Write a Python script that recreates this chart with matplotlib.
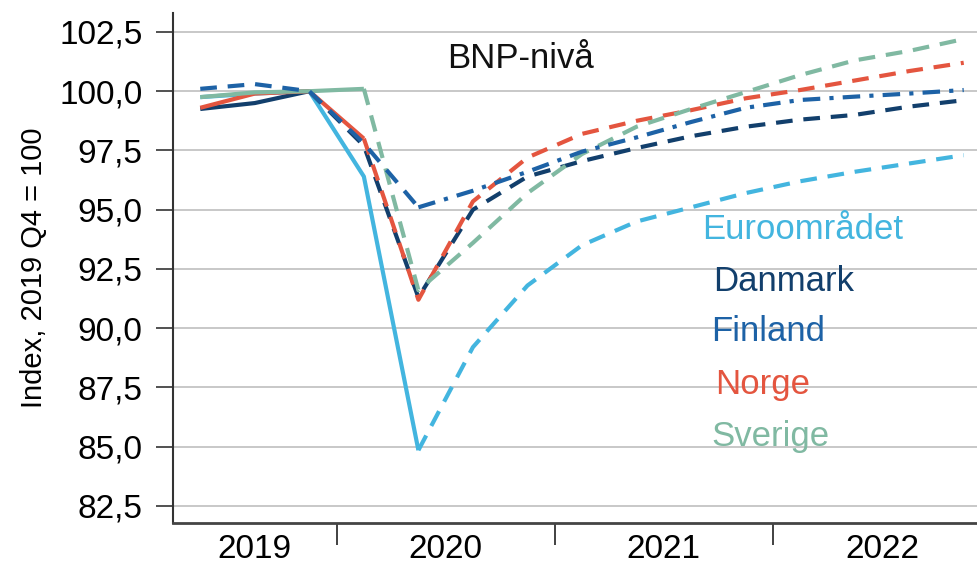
import numpy as np
import matplotlib.pyplot as plt

# quarters 2019Q2 .. 2022Q4
quarters = ['2019Q2', '2019Q3', '2019Q4',
            '2020Q1', '2020Q2', '2020Q3', '2020Q4',
            '2021Q1', '2021Q2', '2021Q3', '2021Q4',
            '2022Q1', '2022Q2', '2022Q3', '2022Q4']

euro = [99.75, 99.9, 100.0, 96.4, 84.85, 89.2, 91.8, 93.5, 94.5, 95.1, 95.7, 96.2, 96.6, 96.95, 97.3]
danmark = [99.25, 99.5, 100.0, 97.7, 91.3, 95.0, 96.4, 97.05, 97.6, 98.1, 98.5, 98.8, 99.0, 99.35, 99.62]
finland = [100.1, 100.3, 100.0, 97.8, 95.1, 95.8, 96.6, 97.45, 98.05, 98.7, 99.3, 99.63, 99.77, 99.9, 100.05]
norge = [99.3, 99.9, 100.0, 98.0, 91.2, 95.35, 97.2, 98.2, 98.75, 99.2, 99.7, 100.05, 100.45, 100.85, 101.2]
sverige = [99.75, 99.95, 100.0, 100.1, 91.6, 93.6, 95.7, 97.35, 98.5, 99.25, 99.96, 100.68, 101.3, 101.7, 102.2]

years = ['2019', '2020', '2021', '2022']
yticks = [82.5, 85.0, 87.5, 90.0, 92.5, 95.0, 97.5, 100.0, 102.5]

plt.rcParams['font.family'] = ['Liberation Sans', 'DejaVu Sans']

c_euro = '#43b5df'
c_dk = '#123f6c'
c_fi = '#1d62a6'
c_no = '#e4553f'
c_se = '#80b9a2'

fig = plt.figure(figsize=(9.77, 5.66), dpi=100)
ax = fig.add_axes([173 / 977, 1 - 523 / 566, (991 - 173) / 977, (523 - 13) / 566])

x = np.arange(len(quarters))
lw = 3.0
dash = (4, 2.6)
dashdot = (4.2, 2.2, 1, 2.2)


def two_part(vals, split, color, style1, style2):
    # first part (history), second part (forecast)
    l1, = ax.plot(x[:split + 1], vals[:split + 1], color=color, lw=lw, solid_capstyle='butt')
    if style1 is not None:
        l1.set_dashes(style1)
    l2, = ax.plot(x[split:], vals[split:], color=color, lw=lw, dash_capstyle='butt')
    l2.set_dashes(style2)


two_part(euro, 4, c_euro, None, dash)
two_part(danmark, 2, c_dk, None, dash)
two_part(norge, 3, c_no, None, dash)
two_part(sverige, 3, c_se, None, dash)
two_part(finland, 4, c_fi, dash, dashdot)

ax.set_xlim(-0.5, 14.5)
ax.set_ylim(81.78, 103.3)

ax.set_yticks(yticks)
ax.set_yticklabels(['{:.1f}'.format(v).replace('.', ',') for v in yticks])
ax.yaxis.grid(True, color='#c8c8c8', lw=1.4)
ax.set_axisbelow(True)

# year boundaries as major ticks, year names as minor labels
ax.set_xticks([2.5, 6.5, 10.5])
ax.set_xticklabels([])
ax.set_xticks([1.0, 4.5, 8.5, 12.5], minor=True)
ax.set_xticklabels(years, minor=True)
ax.tick_params(axis='x', which='major', length=16, width=1.3, color='#333333', direction='out')
ax.tick_params(axis='x', which='minor', length=0, labelsize=24, pad=8)
ax.tick_params(axis='y', length=12, width=1.2, color='#333333', labelsize=24, pad=10)

for s in ['top', 'right']:
    ax.spines[s].set_visible(False)
ax.spines['left'].set_color('#333333')
ax.spines['left'].set_linewidth(1.5)
ax.spines['bottom'].set_color('#444444')
ax.spines['bottom'].set_linewidth(2)

ax.set_ylabel('Index, 2019 Q4 = 100', fontsize=21, labelpad=8)

ax.text(4.52, 101.39, 'BNP-nivå', fontsize=25, va='center', color='#111111')
ax.text(9.21, 94.18, 'Euroområdet', fontsize=25, va='center', color=c_euro)
ax.text(9.41, 91.98, 'Danmark', fontsize=25, va='center', color=c_dk)
ax.text(9.36, 89.87, 'Finland', fontsize=25, va='center', color=c_fi)
ax.text(9.45, 87.64, 'Norge', fontsize=25, va='center', color=c_no)
ax.text(9.38, 85.44, 'Sverige', fontsize=25, va='center', color=c_se)

fig.savefig('out.png', dpi=100)
